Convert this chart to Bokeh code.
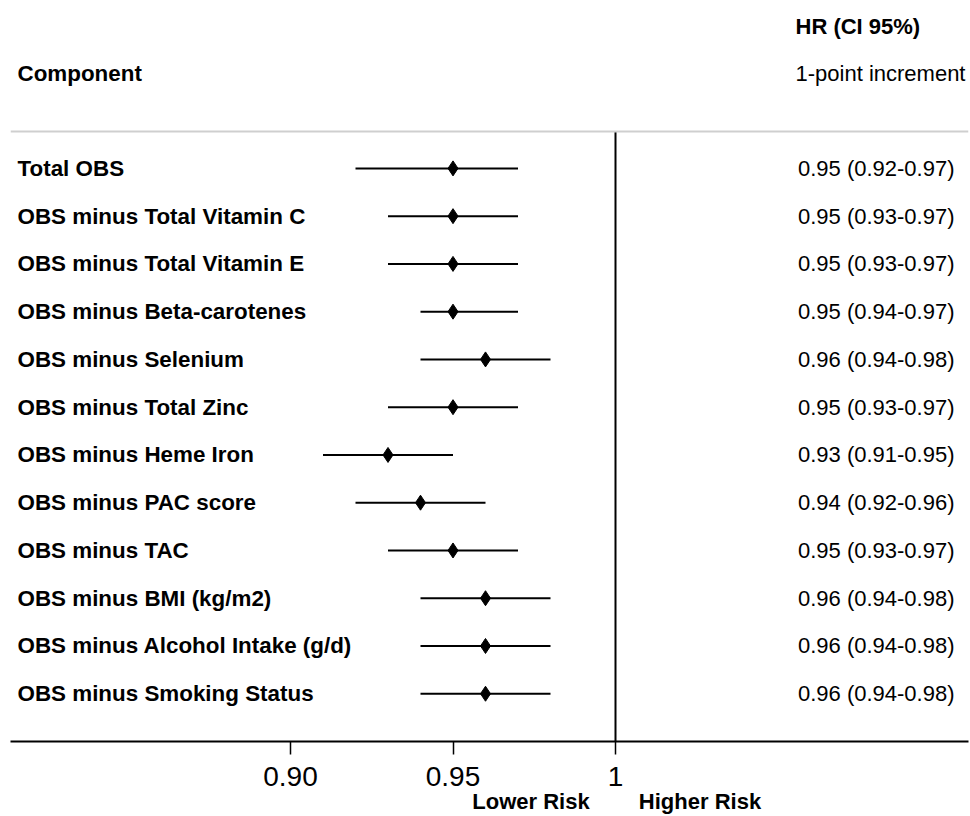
from bokeh.plotting import figure
from bokeh.models import Range1d, FixedTicker, LinearAxis, Span
from bokeh.core.properties import value
from bokeh.embed import file_html
from bokeh.resources import INLINE

# ---- data ----
components = [
    "Total OBS",
    "OBS minus Total Vitamin C",
    "OBS minus Total Vitamin E",
    "OBS minus Beta-carotenes",
    "OBS minus Selenium",
    "OBS minus Total Zinc",
    "OBS minus Heme Iron",
    "OBS minus PAC score",
    "OBS minus TAC",
    "OBS minus BMI (kg/m2)",
    "OBS minus Alcohol Intake (g/d)",
    "OBS minus Smoking Status",
]
hr = [0.95, 0.95, 0.95, 0.95, 0.96, 0.95, 0.93, 0.94, 0.95, 0.96, 0.96, 0.96]
ci_low = [0.92, 0.93, 0.93, 0.94, 0.94, 0.93, 0.91, 0.92, 0.93, 0.94, 0.94, 0.94]
ci_high = [0.97, 0.97, 0.97, 0.97, 0.98, 0.97, 0.95, 0.96, 0.97, 0.98, 0.98, 0.98]
hr_text = ["%.2f (%.2f-%.2f)" % (h, l, u) for h, l, u in zip(hr, ci_low, ci_high)]
ticks = [0.90, 0.95, 1.0]
tick_labels = ["0.90", "0.95", "1"]
risk_pos = [0.974, 1.026]
risk_labels = ["Lower Risk", "Higher Risk"]
ref_value = 1.0
header_left = "Component"
header_right_1 = "HR (CI 95%)"
header_right_2 = "1-point increment"

rows = list(range(len(components)))

# ---- layout ----
W, H = 970, 816
X0 = 0.813846
X1 = 1.108615
Y_BOTTOM = 12.0
Y_TOP = -3.515
SEP_Y = -0.77
FONT = value("Liberation Sans")

p = figure(width=W, height=H, output_backend="svg", toolbar_location=None, tools="",
           x_range=Range1d(X0, X1), y_range=Range1d(Y_BOTTOM, Y_TOP),
           y_axis_location=None, min_border_left=10, min_border_right=2,
           min_border_top=0, min_border_bottom=74)
p.outline_line_color = None
p.xgrid.visible = False
p.ygrid.visible = False
p.background_fill_color = "white"
p.border_fill_color = "white"

ax = p.xaxis[0]
ax.ticker = FixedTicker(ticks=ticks)
ax.major_label_overrides = {t: s for t, s in zip(ticks, tick_labels)}
ax.axis_line_color = "black"
ax.axis_line_width = 2
ax.major_tick_in = 0
ax.major_tick_out = 13
ax.major_tick_line_width = 1.5
ax.minor_tick_line_color = None
ax.major_label_text_font = "Liberation Sans"
ax.major_label_text_font_size = "28px"
ax.major_label_text_color = "black"
ax.major_label_standoff = 12

ax2 = LinearAxis(ticker=FixedTicker(ticks=risk_pos),
                 major_label_overrides={t: s for t, s in zip(risk_pos, risk_labels)},
                 axis_line_color=None, major_tick_line_color=None, minor_tick_line_color=None,
                 major_tick_in=0, major_tick_out=0, major_label_standoff=0,
                 major_label_text_font="Liberation Sans", major_label_text_font_style="bold",
                 major_label_text_font_size="22px", major_label_text_color="black")
p.add_layout(ax2, "below")

# header separator and reference line
p.add_layout(Span(location=SEP_Y, dimension="width", line_color="#cfcfcf", line_width=2))
p.segment(x0=[ref_value], y0=[SEP_Y], x1=[ref_value], y1=[Y_BOTTOM], line_color="black", line_width=2)

# whiskers and points
p.segment(x0=ci_low, y0=rows, x1=ci_high, y1=rows, line_color="black", line_width=2)
p.scatter(x=hr, y=rows, marker="diamond", size=15, color="black")

# texts
p.text(x=[X0] * len(rows), y=rows, text=components, x_offset=7,
       text_font=FONT, text_font_style="bold", text_font_size="22.4px",
       text_baseline="middle", text_align="left", text_color="black")
p.text(x=[X1] * len(rows), y=rows, text=hr_text, x_offset=-14,
       text_font=FONT, text_font_size="22px",
       text_baseline="middle", text_align="right", text_color="black")
p.text(x=[X0], y=[-1.99], text=[header_left], x_offset=7,
       text_font=FONT, text_font_style="bold", text_font_size="22.4px",
       text_baseline="middle", text_align="left", text_color="black")
p.text(x=[X1], y=[-2.97], text=[header_right_1], x_offset=-173,
       text_font=FONT, text_font_style="bold", text_font_size="22px",
       text_baseline="middle", text_align="left", text_color="black")
p.text(x=[X1], y=[-1.99], text=[header_right_2], x_offset=-173,
       text_font=FONT, text_font_size="22px",
       text_baseline="middle", text_align="left", text_color="black")

open("out.html", "w").write(file_html(p, INLINE))
